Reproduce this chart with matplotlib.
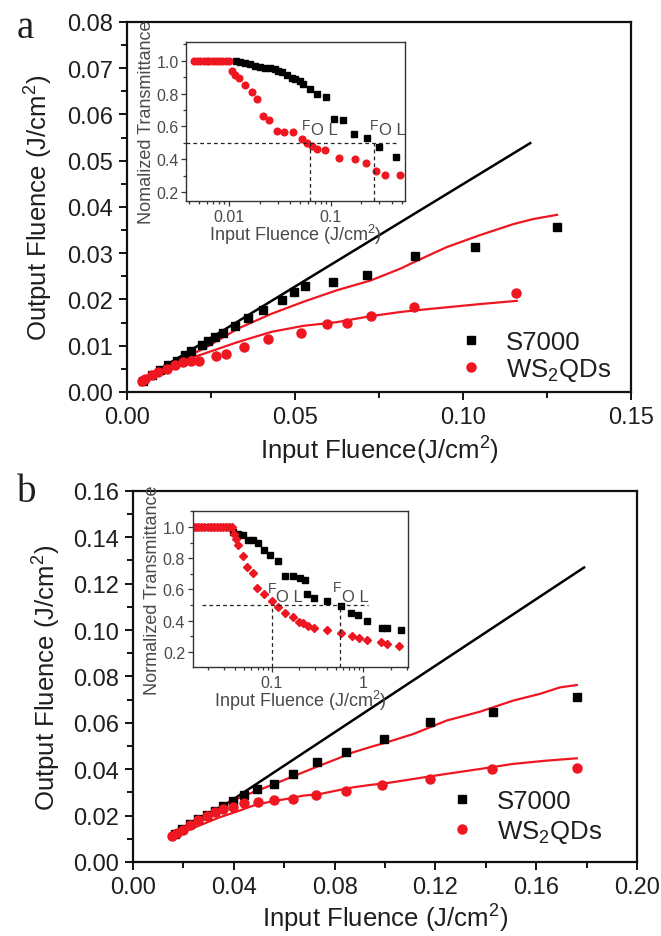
import matplotlib
matplotlib.use("Agg")
import matplotlib.pyplot as plt
from matplotlib.ticker import MultipleLocator, FixedLocator, NullFormatter, LogLocator

plt.rcParams['font.family'] = ['Liberation Sans', 'DejaVu Sans']
plt.rcParams['mathtext.fontset'] = 'custom'
plt.rcParams['mathtext.rm'] = 'Liberation Sans'
plt.rcParams['mathtext.it'] = 'Liberation Sans:italic'

RED = '#ee1620'
TXT = '#1e1e1e'
GREY = '#4a4a4a'

# ---- panel a, main ----
s7000_a_x = [0.0049, 0.0073, 0.0098, 0.0123, 0.0148, 0.0173, 0.0192, 0.0222, 0.0242, 0.0262, 0.0287,
             0.0321, 0.0359, 0.0406, 0.0460, 0.0497, 0.0531, 0.0614, 0.0715, 0.0857, 0.1037, 0.1280]
s7000_a_y = [0.0024, 0.0036, 0.0047, 0.0058, 0.0068, 0.0079, 0.0088, 0.0101, 0.0110, 0.0119, 0.0128,
             0.0143, 0.0159, 0.0178, 0.0198, 0.0216, 0.0229, 0.0238, 0.0252, 0.0293, 0.0314, 0.0357]
ws2_a_x = [0.0044, 0.0054, 0.0073, 0.0093, 0.0118, 0.0143, 0.0168, 0.0192, 0.0215, 0.0264, 0.0295,
           0.0348, 0.0421, 0.0517, 0.0596, 0.0656, 0.0725, 0.0854, 0.1158]
ws2_a_y = [0.0023, 0.0027, 0.0036, 0.0043, 0.0050, 0.0058, 0.0065, 0.0068, 0.0068, 0.0077, 0.0083,
           0.0097, 0.0114, 0.0128, 0.0146, 0.0150, 0.0164, 0.0183, 0.0213]
linear_a_x = [0.0040, 0.1200]
linear_a_y = [0.0024, 0.0538]
fit_s7000_a_x = [0.004, 0.013, 0.023, 0.033, 0.043, 0.0525, 0.0625, 0.0725, 0.0815, 0.0852, 0.0951,
                 0.105, 0.115, 0.121, 0.128]
fit_s7000_a_y = [0.0025, 0.0061, 0.0094, 0.0137, 0.0169, 0.0195, 0.0220, 0.0241, 0.0267, 0.0280, 0.0313,
                 0.0339, 0.0363, 0.0374, 0.0383]
fit_ws2_a_x = [0.004, 0.013, 0.023, 0.033, 0.043, 0.0525, 0.0625, 0.0725, 0.0815, 0.0852, 0.095, 0.105, 0.116]
fit_ws2_a_y = [0.0023, 0.0059, 0.0083, 0.0108, 0.0130, 0.0143, 0.0151, 0.0164, 0.0173, 0.0176, 0.0183,
               0.0190, 0.0197]

# ---- panel a, inset ----
ins_a_s7000_x = [0.0117, 0.0128, 0.0144, 0.0161, 0.0180, 0.0202, 0.0226, 0.0253, 0.0283, 0.0305, 0.0330,
                 0.0369, 0.0413, 0.0446, 0.0499, 0.0538, 0.0626, 0.0740, 0.0893, 0.108, 0.133, 0.170,
                 0.226, 0.301, 0.440]
ins_a_s7000_y = [1.0, 0.990, 0.984, 0.980, 0.969, 0.963, 0.959, 0.959, 0.949, 0.939, 0.929, 0.914, 0.898,
                 0.888, 0.878, 0.857, 0.827, 0.796, 0.782, 0.648, 0.637, 0.552, 0.527, 0.475, 0.413]
ins_a_ws2_x = [0.0045, 0.0048, 0.0052, 0.0056, 0.0060, 0.0064, 0.0069, 0.0074, 0.0080, 0.0086, 0.0093,
               0.0100, 0.0106, 0.0115, 0.0124, 0.0144, 0.0167, 0.0187, 0.0218, 0.0249, 0.0294, 0.0348,
               0.0423, 0.0518, 0.0580, 0.0650, 0.0740, 0.0879, 0.121, 0.173, 0.223, 0.277, 0.342, 0.481]
ins_a_ws2_y = [1.0, 1.0, 1.0, 1.0, 1.0, 1.0, 1.0, 1.0, 1.0, 1.0, 1.0, 1.0, 0.939, 0.914, 0.898, 0.851,
               0.811, 0.770, 0.664, 0.637, 0.572, 0.566, 0.566, 0.521, 0.501, 0.481, 0.464, 0.454, 0.409,
               0.403, 0.375, 0.328, 0.302, 0.304]
fol_a = [0.0627, 0.269]

# ---- panel b, main ----
s7000_b_x = [0.0167, 0.0193, 0.0226, 0.0259, 0.0292, 0.0325, 0.0358, 0.0396, 0.0442, 0.0492, 0.0558,
             0.0634, 0.0731, 0.0845, 0.0995, 0.1180, 0.1428, 0.1763]
s7000_b_y = [0.0121, 0.0142, 0.0164, 0.0185, 0.0203, 0.0221, 0.0243, 0.0263, 0.0287, 0.0314, 0.0337,
             0.0380, 0.0431, 0.0476, 0.0531, 0.0603, 0.0646, 0.0710]
ws2_b_x = [0.0153, 0.0173, 0.0200, 0.0226, 0.0259, 0.0292, 0.0325, 0.0358, 0.0396, 0.0441, 0.0496,
           0.0558, 0.0634, 0.0727, 0.0847, 0.0990, 0.1178, 0.1426, 0.1762]
ws2_b_y = [0.0111, 0.0125, 0.0139, 0.0160, 0.0183, 0.0200, 0.0217, 0.0229, 0.0236, 0.0253, 0.0257,
           0.0266, 0.0270, 0.0290, 0.0306, 0.0331, 0.0356, 0.0400, 0.0405]
linear_b_x = [0.0165, 0.1790]
linear_b_y = [0.0103, 0.1270]
fit_s7000_b_x = [0.0147, 0.0213, 0.0279, 0.0345, 0.0411, 0.0477, 0.0544, 0.0610, 0.0676, 0.0742, 0.0808,
                 0.0874, 0.0940, 0.1007, 0.1113, 0.1245, 0.1377, 0.1509, 0.1615, 0.1695, 0.1761]
fit_s7000_b_y = [0.0111, 0.0150, 0.0193, 0.0236, 0.0272, 0.0301, 0.0329, 0.0358, 0.0387, 0.0416, 0.0444,
                 0.0473, 0.0495, 0.0516, 0.0552, 0.0610, 0.0648, 0.0696, 0.0725, 0.0753, 0.0763]
fit_ws2_b_x = [0.0147, 0.0213, 0.0279, 0.0345, 0.0411, 0.0477, 0.0544, 0.0610, 0.0676, 0.0742, 0.0808,
               0.0874, 0.0940, 0.1007, 0.1113, 0.1245, 0.1377, 0.1509, 0.1641, 0.1761]
fit_ws2_b_y = [0.0106, 0.0135, 0.0164, 0.0193, 0.0217, 0.0243, 0.0260, 0.0272, 0.0286, 0.0293, 0.0308,
               0.0322, 0.0332, 0.0340, 0.0358, 0.0380, 0.0401, 0.0423, 0.0437, 0.0447]

# ---- panel b, inset ----
ins_b_s7000_x = [0.0150, 0.0180, 0.0220, 0.0270, 0.0330, 0.0382, 0.0433, 0.0491, 0.0556, 0.0631, 0.0716,
                 0.0832, 0.0959, 0.118, 0.140, 0.172, 0.204, 0.231, 0.245, 0.292, 0.398, 0.570, 0.728,
                 0.881, 1.107, 1.585, 1.80, 2.55]
ins_b_s7000_y = [1.0, 1.0, 1.0, 1.0, 1.0, 0.968, 0.957, 0.946, 0.918, 0.914, 0.897, 0.854, 0.822, 0.781,
                 0.689, 0.689, 0.674, 0.663, 0.571, 0.545, 0.524, 0.491, 0.449, 0.438, 0.399, 0.356,
                 0.350, 0.339]
ins_b_ws2_x = [0.0146, 0.0158, 0.0171, 0.0184, 0.0199, 0.0215, 0.0232, 0.0251, 0.0271, 0.0293, 0.0316,
               0.0342, 0.0366, 0.0388, 0.0408, 0.0433, 0.0491, 0.0543, 0.0621, 0.0698, 0.0824, 0.1016,
               0.116, 0.140, 0.172, 0.200, 0.221, 0.251, 0.292, 0.404, 0.566, 0.747, 0.904, 1.087,
               1.545, 1.83, 2.47]
ins_b_ws2_y = [1.0, 1.0, 1.0, 1.0, 1.0, 1.0, 1.0, 1.0, 1.0, 1.0, 1.0, 1.0, 1.0, 0.957, 0.925, 0.888,
               0.813, 0.747, 0.706, 0.607, 0.571, 0.524, 0.485, 0.446, 0.421, 0.393, 0.382, 0.367,
               0.356, 0.341, 0.324, 0.303, 0.288, 0.275, 0.266, 0.253, 0.238]
fol_b = [0.100, 0.556]


def style_main(ax):
    for sp in ax.spines.values():
        sp.set_linewidth(1.6)
        sp.set_color('#111111')
    ax.tick_params(which='both', direction='out', top=False, right=False, width=1.4,
                   labelsize=17, colors='#111111', labelcolor=TXT, pad=4)
    ax.tick_params(which='major', length=6)
    ax.tick_params(which='minor', length=4)


def style_inset(ax):
    for sp in ax.spines.values():
        sp.set_linewidth(1.0)
        sp.set_color('#333333')
    ax.tick_params(which='both', direction='out', top=False, right=False, width=0.9,
                   labelsize=11.5, colors='#333333', labelcolor=GREY, pad=2)
    ax.tick_params(which='major', length=3.5)
    ax.tick_params(which='minor', length=2)


def fol_label(ax, xf, xo, yf, yo):
    ax.text(xf, yf, 'F', fontsize=10, color=GREY, ha='left', va='center')
    ax.text(xo, yo, 'O L', fontsize=12, color=GREY, ha='left', va='center')


fig = plt.figure(figsize=(6.61, 9.37), dpi=100)

# ===== panel a =====
ax = fig.add_axes([0.1921, 0.5806, 0.7625, 0.3949])
ax.plot(linear_a_x, linear_a_y, color='black', lw=1.8, zorder=2)
ax.plot(fit_s7000_a_x, fit_s7000_a_y, color=RED, lw=1.6, zorder=2)
ax.plot(fit_ws2_a_x, fit_ws2_a_y, color=RED, lw=1.6, zorder=2)
ax.plot(s7000_a_x, s7000_a_y, 's', color='black', ms=6, ls='none', label='S7000', zorder=3)
ax.plot(ws2_a_x, ws2_a_y, 'o', color=RED, ms=6.5, ls='none', label='WS$_2$QDs', zorder=4)
ax.set_xlim(0, 0.15)
ax.set_ylim(0, 0.08)
ax.xaxis.set_major_locator(MultipleLocator(0.05))
ax.xaxis.set_minor_locator(MultipleLocator(0.025))
ax.yaxis.set_major_locator(MultipleLocator(0.01))
ax.yaxis.set_minor_locator(MultipleLocator(0.005))
ax.xaxis.set_major_formatter(lambda v, p: f'{v:.2f}')
ax.yaxis.set_major_formatter(lambda v, p: f'{v:.2f}')
style_main(ax)
ax.set_xlabel('Input Fluence(J/cm$^2$)', fontsize=18.5, color=TXT, labelpad=4)
ax.set_ylabel('Output Fluence (J/cm$^2$)', fontsize=18.5, color=TXT, labelpad=9)
ax.legend(loc='lower left', bbox_to_anchor=(0.66, 0.025), frameon=False, fontsize=18.5,
          handlelength=0.9, handletextpad=0.9, labelspacing=0.05, borderpad=0, borderaxespad=0,
          labelcolor=TXT)

ia = fig.add_axes([0.2821, 0.7844, 0.3306, 0.1697])
ia.set_xscale('log')
ia.plot(ins_a_s7000_x, ins_a_s7000_y, 's', color='black', ms=3.8, ls='none')
ia.plot(ins_a_ws2_x, ins_a_ws2_y, 'o', color=RED, ms=4.8, ls='none')
ia.set_xlim(0.0038, 0.54)
ia.set_ylim(0.145, 1.115)
ia.plot([0.0038, 0.45], [0.5, 0.5], ls=(0, (3, 2.5)), color='#222222', lw=0.9)
for xv in fol_a:
    ia.plot([xv, xv], [0.145, 0.5], ls=(0, (3, 2.5)), color='#222222', lw=0.9)
ia.set_xticks([0.01, 0.1], ['0.01', '0.1'])
ia.xaxis.set_minor_locator(LogLocator(base=10, subs=range(2, 10), numticks=20))
ia.xaxis.set_minor_formatter(NullFormatter())
ia.yaxis.set_major_locator(FixedLocator([0.2, 0.4, 0.6, 0.8, 1.0]))
ia.yaxis.set_minor_locator(MultipleLocator(0.1))
ia.yaxis.set_major_formatter(lambda v, p: f'{v:.1f}')
style_inset(ia)
ia.set_xlabel('Input Fluence (J/cm$^2$)', fontsize=13, color=GREY, labelpad=-1)
ia.set_ylabel('Nomalized Transmittance', fontsize=13, color=GREY, labelpad=1)
fol_label(ia, 0.0525, 0.064, 0.610, 0.582)
fol_label(ia, 0.245, 0.298, 0.610, 0.582)

# ===== panel b =====
bx = fig.add_axes([0.2012, 0.0790, 0.7625, 0.3960])
bx.plot(linear_b_x, linear_b_y, color='black', lw=1.8, zorder=2)
bx.plot(fit_s7000_b_x, fit_s7000_b_y, color=RED, lw=1.6, zorder=2)
bx.plot(fit_ws2_b_x, fit_ws2_b_y, color=RED, lw=1.6, zorder=2)
bx.plot(s7000_b_x, s7000_b_y, 's', color='black', ms=6, ls='none', label='S7000', zorder=3)
bx.plot(ws2_b_x, ws2_b_y, 'o', color=RED, ms=6.5, ls='none', label='WS$_2$QDs', zorder=4)
bx.set_xlim(0, 0.20)
bx.set_ylim(0, 0.16)
bx.xaxis.set_major_locator(MultipleLocator(0.04))
bx.xaxis.set_minor_locator(MultipleLocator(0.02))
bx.yaxis.set_major_locator(MultipleLocator(0.02))
bx.yaxis.set_minor_locator(MultipleLocator(0.01))
bx.xaxis.set_major_formatter(lambda v, p: f'{v:.2f}')
bx.yaxis.set_major_formatter(lambda v, p: f'{v:.2f}')
style_main(bx)
bx.set_xlabel('Input Fluence (J/cm$^2$)', fontsize=18.5, color=TXT, labelpad=3)
bx.set_ylabel('Output Fluence (J/cm$^2$)', fontsize=18.5, color=TXT, labelpad=7)
bx.legend(loc='lower left', bbox_to_anchor=(0.63, 0.045), frameon=False, fontsize=18.5,
          handlelength=0.9, handletextpad=0.9, labelspacing=0.2, borderpad=0, borderaxespad=0,
          labelcolor=TXT)

ib = fig.add_axes([0.2915, 0.2871, 0.3253, 0.1665])
ib.set_xscale('log')
ib.plot(ins_b_s7000_x, ins_b_s7000_y, 's', color='black', ms=4.6, ls='none')
ib.plot(ins_b_ws2_x, ins_b_ws2_y, 'D', color=RED, ms=4.0, ls='none')
ib.set_xlim(0.0137, 3.05)
ib.set_ylim(0.103, 1.103)
ib.plot([0.0172, 1.13], [0.5, 0.5], ls=(0, (3, 2.5)), color='#222222', lw=0.9)
for xv in fol_b:
    ib.plot([xv, xv], [0.103, 0.5], ls=(0, (3, 2.5)), color='#222222', lw=0.9)
ib.set_xticks([0.1, 1], ['0.1', '1'])
ib.xaxis.set_minor_locator(LogLocator(base=10, subs=range(2, 10), numticks=20))
ib.xaxis.set_minor_formatter(NullFormatter())
ib.yaxis.set_major_locator(FixedLocator([0.2, 0.4, 0.6, 0.8, 1.0]))
ib.yaxis.set_minor_locator(MultipleLocator(0.1))
ib.yaxis.set_major_formatter(lambda v, p: f'{v:.1f}')
style_inset(ib)
ib.set_xlabel('Input Fluence (J/cm$^2$)', fontsize=13, color=GREY, labelpad=-1)
ib.set_ylabel('Normalized Transmittance', fontsize=13, color=GREY, labelpad=1)
fol_label(ib, 0.090, 0.112, 0.610, 0.556)
fol_label(ib, 0.465, 0.585, 0.613, 0.556)

fig.text(25 / 661, 1 - 29 / 937, 'a', fontsize=28, family='Liberation Serif', ha='center', va='center',
         color=TXT)
fig.text(27 / 661, 1 - 493 / 937, 'b', fontsize=28, family='Liberation Serif', ha='center', va='center',
         color=TXT)

fig.savefig('out.png', dpi=100)
